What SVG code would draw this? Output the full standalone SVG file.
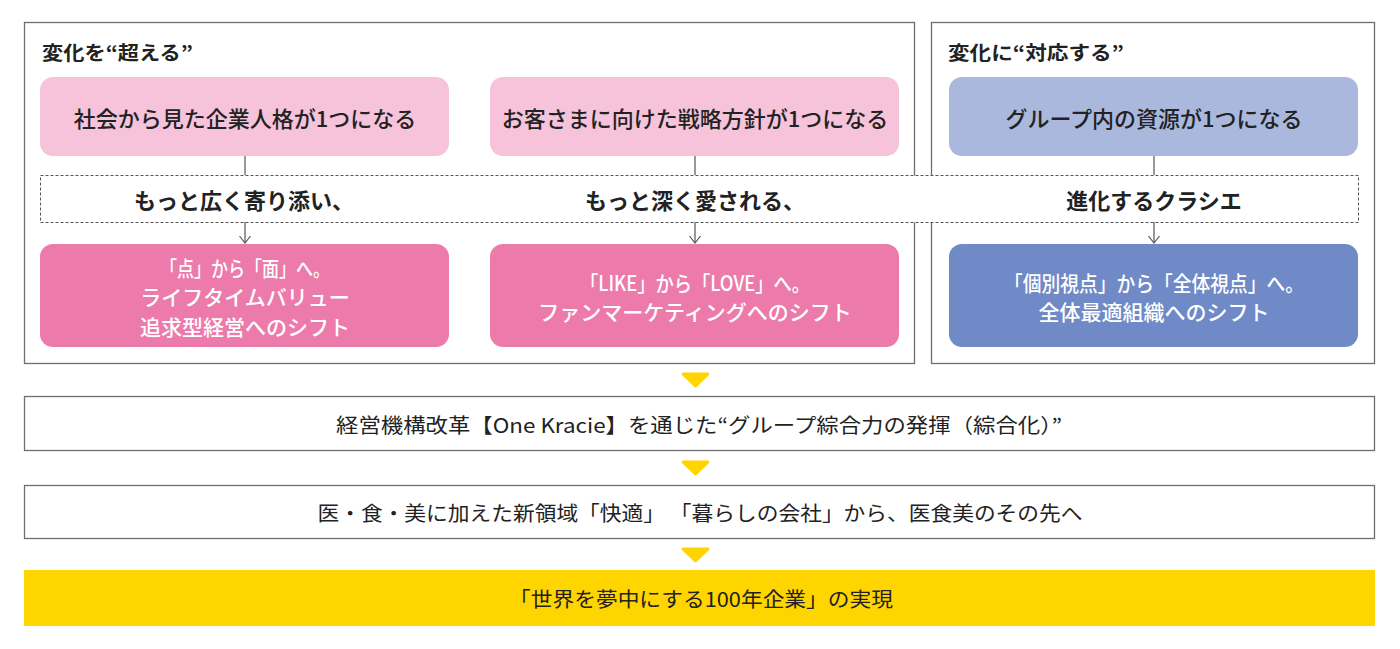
<svg xmlns="http://www.w3.org/2000/svg" width="1400" height="649" viewBox="0 0 1400 649">
<style>
text{font-family:"Noto Sans CJK JP","Noto Sans",sans-serif;text-anchor:middle;dominant-baseline:central}
.frame{fill:#fff;stroke:#6e6e6e;stroke-width:1.3}
.title{font-size:19px;font-weight:700;fill:#222;text-anchor:start}
.lt{font-size:22px;font-weight:500;fill:#222}
.dk{font-size:21px;font-weight:500;fill:#fff}
.mid{font-size:22px;font-weight:700;fill:#222}
.bar{font-size:20px;font-weight:400;fill:#222}
.conn{stroke:#555;stroke-width:1.2;fill:none}
.tri{fill:#FFD400;stroke:#FFD400;stroke-width:3;stroke-linejoin:round}
</style>
<defs>
<marker id="arr" viewBox="0 0 8 12" refX="7.5" refY="6" markerWidth="8" markerHeight="12" markerUnits="userSpaceOnUse" orient="auto">
<path d="M0.5,0.5 L7.5,6 L0.5,11.5" fill="none" stroke="#555" stroke-width="1.1"/>
</marker>
</defs>
<g id="panel-left">
<rect class="frame" x="24.5" y="22.5" width="890" height="341"/>
<text class="title" x="42" y="51" textLength="151" lengthAdjust="spacingAndGlyphs">変化を“超える”</text>
</g>
<g id="panel-right">
<rect class="frame" x="931.5" y="22.5" width="443" height="341"/>
<text class="title" x="948" y="51" textLength="176" lengthAdjust="spacingAndGlyphs">変化に“対応する”</text>
</g>
<g id="dashed-band">
<rect x="40.5" y="175.5" width="1318" height="47" fill="#fff" stroke="#555" stroke-width="1" stroke-dasharray="3,2"/>
<text class="mid" x="244" y="199">もっと広く寄り添い、</text>
<text class="mid" x="695" y="199">もっと深く愛される、</text>
<text class="mid" x="1154" y="199">進化するクラシエ</text>
</g>
<g id="connectors">
<line class="conn" x1="245" y1="156" x2="245" y2="175"/>
<line class="conn" x1="245" y1="222" x2="245" y2="243" marker-end="url(#arr)"/>
<line class="conn" x1="695" y1="156" x2="695" y2="175"/>
<line class="conn" x1="695" y1="222" x2="695" y2="243" marker-end="url(#arr)"/>
<line class="conn" x1="1154" y1="156" x2="1154" y2="175"/>
<line class="conn" x1="1154" y1="222" x2="1154" y2="243" marker-end="url(#arr)"/>
<path class="tri" d="M683,374 L708,374 L695.5,386 Z"/>
<path class="tri" d="M683,462 L708,462 L695.5,474 Z"/>
<path class="tri" d="M683,549 L708,549 L695.5,561 Z"/>
</g>
<g id="node-social">
<rect x="40" y="77" width="409" height="79" rx="13" fill="#F6C3DA"/>
<text class="lt" x="245" y="117">社会から見た企業人格が1つになる</text>
</g>
<g id="node-strategy">
<rect x="490" y="77" width="409" height="79" rx="13" fill="#F6C3DA"/>
<text class="lt" x="695" y="117">お客さまに向けた戦略方針が1つになる</text>
</g>
<g id="node-resources">
<rect x="949" y="77" width="409" height="79" rx="13" fill="#AAB8DE"/>
<text class="lt" x="1154" y="117">グループ内の資源が1つになる</text>
</g>
<g id="node-lifetime">
<rect x="40" y="244" width="409" height="103" rx="13" fill="#EC7BAB"/>
<text class="dk" x="245" y="267" textLength="170" lengthAdjust="spacingAndGlyphs">「点」から「面」へ。</text>
<text class="dk" x="245" y="296">ライフタイムバリュー</text>
<text class="dk" x="245" y="326">追求型経営へのシフト</text>
</g>
<g id="node-fan">
<rect x="490" y="244" width="409" height="103" rx="13" fill="#EC7BAB"/>
<text class="dk" x="695" y="282" textLength="230" lengthAdjust="spacingAndGlyphs">「LIKE」から「LOVE」へ。</text>
<text class="dk" x="695" y="311">ファンマーケティングへのシフト</text>
</g>
<g id="node-whole">
<rect x="949" y="244" width="409" height="103" rx="13" fill="#6F8AC6"/>
<text class="dk" x="1154" y="282" textLength="300" lengthAdjust="spacingAndGlyphs">「個別視点」から「全体視点」へ。</text>
<text class="dk" x="1154" y="311">全体最適組織へのシフト</text>
</g>
<g id="node-onekracie">
<rect class="frame" x="24.5" y="396.5" width="1350" height="54"/>
<text class="bar" x="699" y="424" textLength="726" lengthAdjust="spacingAndGlyphs">経営機構改革【One Kracie】を通じた“グループ綜合力の発揮（綜合化）”</text>
</g>
<g id="node-newdomain">
<rect class="frame" x="24.5" y="485.5" width="1350" height="53"/>
<text class="bar" x="700" y="512" textLength="765" lengthAdjust="spacingAndGlyphs">医・食・美に加えた新領域「快適」 「暮らしの会社」から、医食美のその先へ</text>
</g>
<g id="node-goal">
<rect x="24" y="570" width="1351" height="56" fill="#FFD500"/>
<text class="bar" x="701" y="598" textLength="384" lengthAdjust="spacingAndGlyphs">「世界を夢中にする100年企業」の実現</text>
</g>
</svg>
